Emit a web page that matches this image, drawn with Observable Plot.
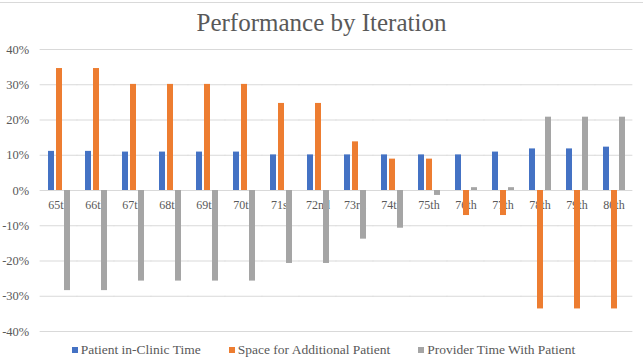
<!DOCTYPE html>
<html>
<head>
<meta charset="utf-8">
<script src="https://cdn.jsdelivr.net/npm/d3@7"></script>
<script src="https://cdn.jsdelivr.net/npm/@observablehq/plot@0.6"></script>
<style>
  html, body { margin: 0; padding: 0; background: #fff; }
  #wrap { position: relative; width: 643px; height: 358px; overflow: hidden; font-family: "Liberation Serif", "DejaVu Serif", serif; color: #595959; }
  #topline { position: absolute; left: 0; top: 2px; width: 643px; height: 1px; background: #d9d9d9; }
  #title { position: absolute; left: 0; top: 9px; width: 643px; text-align: center; font-size: 25px; line-height: 28px; color: #595959; }
  #chart { position: absolute; left: 0; top: 36px; }
  #legend { position: absolute; left: 0; top: 342px; width: 643px; display: flex; justify-content: center; gap: 28px; font-family: "Liberation Serif", serif; font-size: 13.5px; line-height: 16px; color: #595959; padding-left: 4px; box-sizing: border-box; }
  .item { display: flex; align-items: center; gap: 3px; white-space: nowrap; }
  .sw { width: 6px; height: 6px; display: inline-block; }
</style>
</head>
<body>
<div id="wrap">
  <div id="topline"></div>
  <div id="title">Performance by Iteration</div>
  <div id="chart"></div>
  <div id="legend"></div>
</div>
<script>
const categories = ["65th","66th","67th","68th","69th","70th","71st","72nd","73rd","74th","75th","76th","77th","78th","79th","80th"];
const seriesNames = ["Patient in-Clinic Time","Space for Additional Patient","Provider Time With Patient"];
const clinicTime = [0.111,0.111,0.109,0.109,0.109,0.109,0.101,0.101,0.101,0.101,0.101,0.101,0.109,0.118,0.118,0.123];
const additionalSpace = [0.346,0.346,0.301,0.301,0.301,0.301,0.247,0.247,0.138,0.089,0.089,-0.071,-0.071,-0.336,-0.336,-0.336];
const providerTime = [-0.284,-0.284,-0.257,-0.257,-0.257,-0.257,-0.207,-0.207,-0.138,-0.107,-0.014,0.008,0.008,0.208,0.208,0.208];
const yTicks = [-0.4,-0.3,-0.2,-0.1,0,0.1,0.2,0.3,0.4];
const colors = ["#4472C4","#ED7D31","#A5A5A5"];

const seriesValues = [clinicTime, additionalSpace, providerTime];
const data = categories.flatMap((c, i) => seriesNames.map((s, j) => ({cat: c, series: s, value: seriesValues[j][i]})));
const pct = d => `${Math.round(d * 100)}%`;

const W = 643, ML = 38, MR = 9;
const halfGap = ((W - ML - MR) / categories.length) * 0.195;
const serif = "'Liberation Serif', serif";

const chart = Plot.plot({
  width: W,
  height: 305,
  marginTop: 13,
  marginBottom: 10,
  marginLeft: ML,
  marginRight: MR,
  style: {fontFamily: serif, fontSize: "12px", color: "#595959", background: "transparent"},
  fx: {domain: categories, paddingInner: 0.39, paddingOuter: 0.195, axis: null, label: null},
  x: {domain: seriesNames, paddingInner: 0.25, paddingOuter: 0, axis: null},
  y: {domain: [-0.4, 0.4], axis: null},
  color: {domain: seriesNames, range: colors},
  marks: [
    Plot.ruleY(yTicks, {stroke: "#d9d9d9", strokeOpacity: 1, insetLeft: -halfGap - 0.1, insetRight: -halfGap - 0.1}),
    Plot.axisY(yTicks, {tickFormat: pct, tickSize: 0, tickPadding: halfGap + 11, fill: "#595959", fontSize: 12.5, fontFamily: serif, label: null}),
    Plot.text(categories, {fx: d => d, y: () => 0, text: d => d, dy: 15, fill: "#595959", fontSize: 12, fontFamily: serif}),
    Plot.barY(data, {fx: "cat", x: "series", y: "value", fill: "series"})
  ]
});
document.getElementById("chart").appendChild(chart);

const legend = document.getElementById("legend");
seriesNames.forEach((s, j) => {
  const it = document.createElement("div");
  it.className = "item";
  const sw = document.createElement("span");
  sw.className = "sw";
  sw.style.background = colors[j];
  const t = document.createElement("span");
  t.textContent = s;
  it.appendChild(sw);
  it.appendChild(t);
  legend.appendChild(it);
});
</script>
</body>
</html>
